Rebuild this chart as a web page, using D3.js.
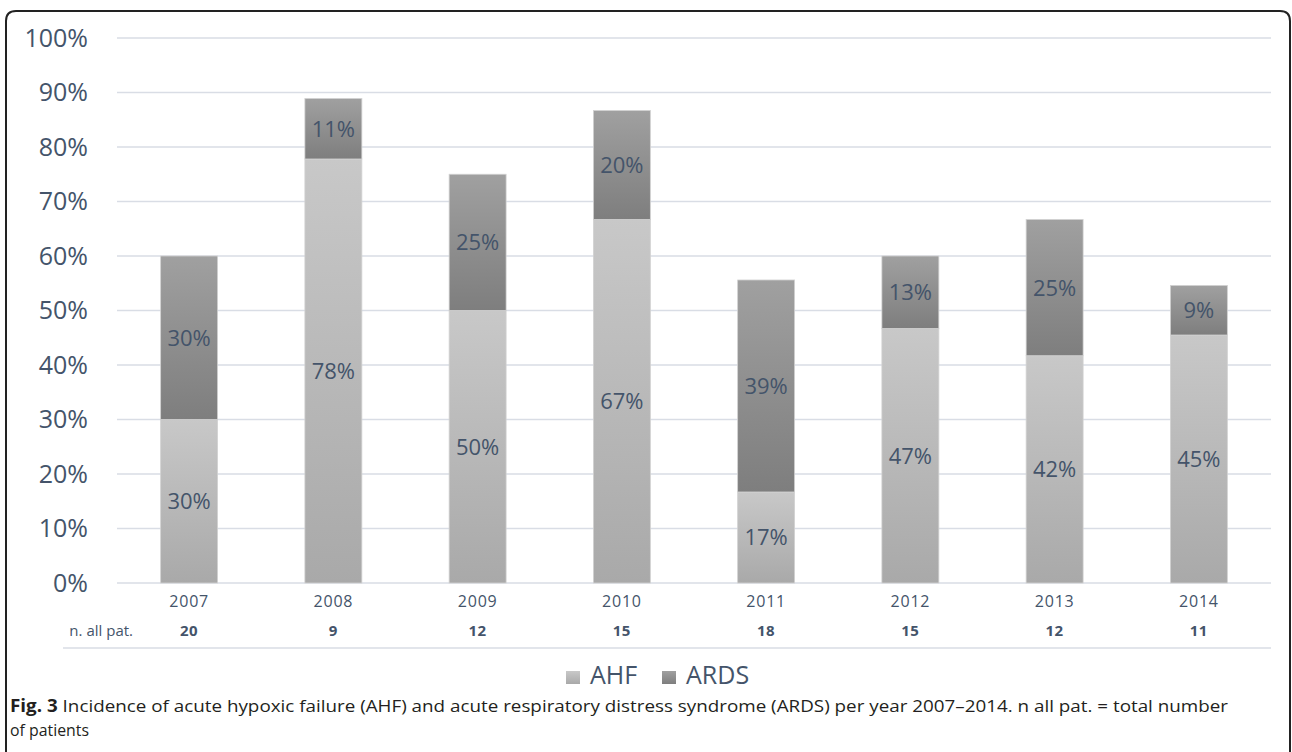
<!DOCTYPE html>
<html><head><meta charset="utf-8">
<script src="https://cdn.jsdelivr.net/npm/d3@7"></script>
<style>body{margin:0;background:#fff;} svg{display:block;}</style>
</head><body>
<svg id="chart" width="1292" height="752"></svg>
<script>
const years = ["2007","2008","2009","2010","2011","2012","2013","2014"];
const ahf  = [30, 77.8, 50, 66.7, 16.7, 46.7, 41.7, 45.5];
const ards = [30, 11.1, 25, 20, 38.9, 13.3, 25, 9.1];
const ahfLabels  = ["30%","78%","50%","67%","17%","47%","42%","45%"];
const ardsLabels = ["30%","11%","25%","20%","39%","13%","25%","9%"];
const nAllPat = [20, 9, 12, 15, 18, 15, 12, 11];
const yTicks = [0,10,20,30,40,50,60,70,80,90,100];
const seriesNames = ["AHF","ARDS"];

const svg = d3.select("#chart");
const textCol = "#44546A";
const gridCol = "#d9dde5";
const font = "'Open Sans', sans-serif";

const defs = svg.append("defs");
function grad(id, c1, c2){
  const g = defs.append("linearGradient").attr("id", id).attr("x1",0).attr("y1",0).attr("x2",0).attr("y2",1);
  g.append("stop").attr("offset","0%").attr("stop-color",c1);
  g.append("stop").attr("offset","100%").attr("stop-color",c2);
}
grad("gAHF", "#c8c8c8", "#a9a9a9");
grad("gARDS", "#a0a0a0", "#7e7e7e");
const fills = {AHF:"url(#gAHF)", ARDS:"url(#gARDS)"};

// border frame
svg.append("path")
  .attr("d", "M6,752 L6,21 Q6,11 16,11 L1280,11 Q1290,11 1290,21 L1290,752")
  .attr("fill","none").attr("stroke","#222").attr("stroke-width",2);

const x = d3.scaleBand().domain(years).range([117,1271]).paddingInner(0.605).paddingOuter(0.3025);
const y = d3.scaleLinear().domain([0,100]).range([583,38]);

// gridlines
svg.append("g").selectAll("line").data(yTicks).join("line")
  .attr("x1",117).attr("x2",1271)
  .attr("y1",d=>y(d)).attr("y2",d=>y(d))
  .attr("stroke",gridCol).attr("stroke-width",1.6);

// y axis labels
const yAxis = d3.axisLeft(y).tickValues(yTicks).tickFormat(d=>d+"%").tickSize(0).tickPadding(0);
const yg = svg.append("g").attr("transform","translate(88,0)").call(yAxis);
yg.select(".domain").remove();
yg.selectAll("text").attr("font-family",font).attr("font-size",25).attr("fill",textCol);

// stacked data
const data = years.map((yr,i)=>({year:yr, AHF:ahf[i], ARDS:ards[i]}));
const stack = d3.stack().keys(seriesNames)(data);
const labelSets = {AHF:ahfLabels, ARDS:ardsLabels};

stack.forEach(layer=>{
  const key = layer.key;
  const g = svg.append("g");
  g.selectAll("rect").data(layer).join("rect")
    .attr("x", d=>x(d.data.year))
    .attr("width", x.bandwidth())
    .attr("y", d=>y(d[1]))
    .attr("height", d=>y(d[0])-y(d[1]))
    .attr("fill", fills[key])
    .attr("stroke","#d2d2d2").attr("stroke-width",0.8);
  g.selectAll("text").data(layer).join("text")
    .attr("x", d=>x(d.data.year)+x.bandwidth()/2)
    .attr("y", d=>(y(d[0])+y(d[1]))/2)
    .attr("dy","0.36em")
    .attr("text-anchor","middle")
    .attr("font-family",font).attr("font-size",22).attr("fill",textCol)
    .text((d,i)=>labelSets[key][i]);
});

// x axis category labels
const xAxis = d3.axisBottom(x).tickSize(0).tickPadding(0);
const xg = svg.append("g").attr("transform","translate(0,607)").call(xAxis);
xg.select(".domain").remove();
xg.selectAll("text").attr("dy",0).attr("font-family",font).attr("font-size",16)
  .attr("letter-spacing","0.8px").attr("fill",textCol);

// n. all pat. row
svg.append("text").attr("x",133).attr("y",636).attr("text-anchor","end")
  .attr("font-family",font).attr("font-size",15)
  .attr("fill",textCol).text("n. all pat.");
svg.append("g").selectAll("text").data(nAllPat).join("text")
  .attr("x",(d,i)=>x(years[i])+x.bandwidth()/2).attr("y",636)
  .attr("text-anchor","middle").attr("font-family",font).attr("font-size",15)
  .attr("font-weight","bold").attr("letter-spacing","0.6px").attr("fill",textCol)
  .text(d=>d);
svg.append("line").attr("x1",63).attr("x2",1271).attr("y1",648).attr("y2",648)
  .attr("stroke",gridCol).attr("stroke-width",1.6);

// legend
const legendItems = [{name:"AHF", x:566},{name:"ARDS", x:662}];
const lg = svg.append("g");
legendItems.forEach(it=>{
  lg.append("rect").attr("x",it.x).attr("y",671).attr("width",14).attr("height",13)
    .attr("fill",fills[it.name]);
  lg.append("text").attr("x",it.x+24).attr("y",684).attr("font-family",font)
    .attr("font-size",25).attr("fill",textCol).text(it.name);
});

// caption
const cap = svg.append("text").attr("x",10).attr("y",712).attr("font-family",font)
  .attr("font-size",17).attr("fill","#231f20")
  .attr("textLength",1218).attr("lengthAdjust","spacingAndGlyphs");
cap.append("tspan").attr("font-weight","bold").text("Fig. 3");
cap.append("tspan").text(" Incidence of acute hypoxic failure (AHF) and acute respiratory distress syndrome (ARDS) per year 2007–2014. n all pat. = total number");
svg.append("text").attr("x",10).attr("y",736).attr("font-family",font)
  .attr("font-size",17).attr("fill","#231f20")
  .attr("textLength",79).attr("lengthAdjust","spacingAndGlyphs")
  .text("of patients");
</script>
</body></html>
